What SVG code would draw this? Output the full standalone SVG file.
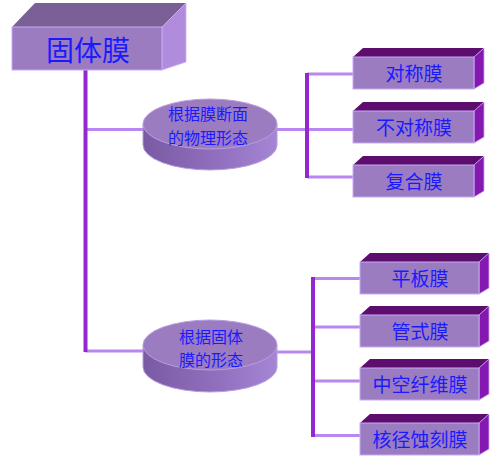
<svg xmlns="http://www.w3.org/2000/svg" width="492" height="465" viewBox="0 0 492 465">
<defs>
<linearGradient id="side" x1="0" y1="0" x2="1" y2="0">
<stop offset="0" stop-color="#7a5aa2"/>
<stop offset="0.6" stop-color="#9272c0"/>
<stop offset="1" stop-color="#a586d4"/>
</linearGradient>
<style>
.front{fill:#9b7cc0;stroke:#c9a8f5;stroke-width:1}
.top{fill:#5c0d6e}
.right{fill:#8418b0;stroke:#c9a8f5;stroke-width:0.8}
.bigtop{fill:#7a6096}
.bigright{fill:#b28cdc;stroke:#d0b0f5;stroke-width:0.8}
.t{font-family:"Noto Sans CJK SC","Noto Sans CJK JP",sans-serif;fill:#1a1aff;text-anchor:middle}
.trunk{stroke:#9428d0;stroke-width:4;fill:none}
.branch{stroke:#b888f0;stroke-width:3;fill:none}
.ell{fill:#9b7cc0;stroke:#b99ce0;stroke-width:1}
.cyl{fill:url(#side);stroke:#b99ce0;stroke-width:1}
</style>
</defs>
<g id="connectors">
<line class="branch" x1="85" y1="129.5" x2="143" y2="129.5"/>
<line class="branch" x1="85" y1="351" x2="143" y2="351"/>
<line class="branch" x1="277" y1="129.5" x2="307" y2="129.5"/>
<line class="branch" x1="307" y1="74" x2="353" y2="74"/>
<line class="branch" x1="307" y1="177" x2="353" y2="177"/>
<line class="branch" x1="307" y1="129.5" x2="353" y2="129.5"/>
<line class="branch" x1="277" y1="352" x2="313" y2="352"/>
<line class="branch" x1="313" y1="278.5" x2="360" y2="278.5"/>
<line class="branch" x1="313" y1="327" x2="360" y2="327"/>
<line class="branch" x1="313" y1="381" x2="360" y2="381"/>
<line class="branch" x1="313" y1="435.5" x2="360" y2="435.5"/>
<line class="trunk" x1="85.5" y1="70" x2="85.5" y2="352"/>
<line class="trunk" x1="307" y1="73" x2="307" y2="178"/>
<line class="trunk" x1="313" y1="277" x2="313" y2="437"/>
</g>
<g id="root">
<polygon class="bigtop" points="12,27 35,3 186,3 162,27"/>
<polygon class="bigright" points="162,27 186,3 186,62 162,70"/>
<rect class="front" x="12" y="27" width="150" height="43"/>
<text class="t" x="88" y="61" font-size="28">固体膜</text>
</g>
<g id="cat1">
<path class="cyl" d="M143,124 L143,145 A67,25 0 0 0 277,145 L277,124 Z"/>
<ellipse class="ell" cx="210" cy="124" rx="67" ry="25"/>
<text class="t" font-size="16"><tspan x="208" y="120">根据膜断面</tspan><tspan x="208" y="143.5">的物理形态</tspan></text>
</g>
<g id="cat2">
<path class="cyl" d="M143,345 L143,367 A67,25 0 0 0 277,367 L277,345 Z"/>
<ellipse class="ell" cx="210" cy="345" rx="67" ry="25"/>
<text class="t" font-size="16"><tspan x="211" y="342.5">根据固体</tspan><tspan x="211" y="366">膜的形态</tspan></text>
</g>
<g id="n1">
<polygon class="top" points="353,57 363,48 484,48 474,57"/>
<polygon class="right" points="474,57 484,48 484,83 474,89"/>
<rect class="front" x="353" y="57" width="121" height="32"/>
<text class="t" x="414" y="81" font-size="19">对称膜</text>
</g>
<g id="n2">
<polygon class="top" points="353,111 363,102 484,102 474,111"/>
<polygon class="right" points="474,111 484,102 484,137 474,143"/>
<rect class="front" x="353" y="111" width="121" height="32"/>
<text class="t" x="414" y="135" font-size="19">不对称膜</text>
</g>
<g id="n3">
<polygon class="top" points="353,165 363,156 484,156 474,165"/>
<polygon class="right" points="474,165 484,156 484,191 474,197"/>
<rect class="front" x="353" y="165" width="121" height="32"/>
<text class="t" x="414" y="189" font-size="19">复合膜</text>
</g>
<g id="n4">
<polygon class="top" points="360,262 370,253 489,253 479,262"/>
<polygon class="right" points="479,262 489,253 489,288 479,294"/>
<rect class="front" x="360" y="262" width="119" height="32"/>
<text class="t" x="420" y="286" font-size="19">平板膜</text>
</g>
<g id="n5">
<polygon class="top" points="360,315 370,306 489,306 479,315"/>
<polygon class="right" points="479,315 489,306 489,341 479,347"/>
<rect class="front" x="360" y="315" width="119" height="32"/>
<text class="t" x="420" y="339" font-size="19">管式膜</text>
</g>
<g id="n6">
<polygon class="top" points="360,368 370,359 489,359 479,368"/>
<polygon class="right" points="479,368 489,359 489,394 479,400"/>
<rect class="front" x="360" y="368" width="119" height="32"/>
<text class="t" x="420" y="392" font-size="19">中空纤维膜</text>
</g>
<g id="n7">
<polygon class="top" points="360,423 370,414 489,414 479,423"/>
<polygon class="right" points="479,423 489,414 489,449 479,455"/>
<rect class="front" x="360" y="423" width="119" height="32"/>
<text class="t" x="420" y="447" font-size="19">核径蚀刻膜</text>
</g>
</svg>
